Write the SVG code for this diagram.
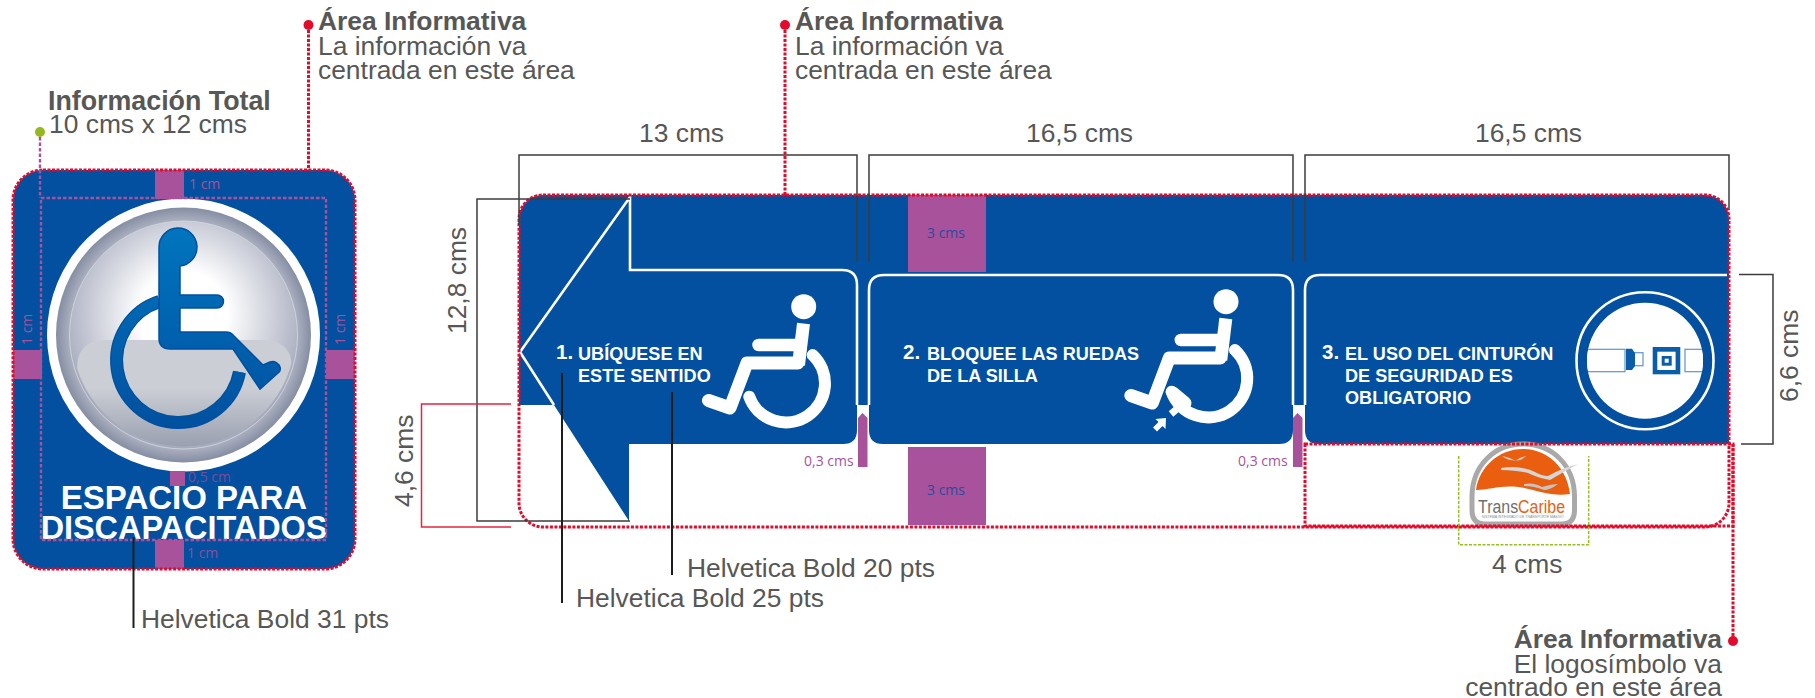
<svg xmlns="http://www.w3.org/2000/svg" width="1815" height="698" viewBox="0 0 1815 698">
<style>
text{font-family:"Liberation Sans",Arial,sans-serif}
.t{font-size:26.4px;fill:#575756}
.b{font-size:26.4px;fill:#575756;font-weight:bold}
.m{font-family:"Open Sans","Noto Sans",sans-serif;font-size:14px;fill:#a7529a}
.s{font-size:18.1px;fill:#fff;font-weight:bold}
.n{font-size:20.5px;fill:#fff;font-weight:bold}
.red{fill:none;stroke:#e30b2b;stroke-width:3;stroke-dasharray:3 1.5}
.pur{fill:none;stroke:#a7529a;stroke-width:2.4;stroke-dasharray:3.5 2}
.grn{fill:none;stroke:#94c11f;stroke-width:1.5;stroke-dasharray:3 1.5}
.dim{fill:none;stroke:#3c3c3b;stroke-width:1.5}
.dimr{fill:none;stroke:#e8233f;stroke-width:1.5}
.lead{fill:none;stroke:#1d1d1b;stroke-width:2}
.wl{fill:none;stroke:#fff;stroke-width:2.6}
.w{fill:none;stroke:#fff;stroke-linecap:round;stroke-linejoin:round}
.belt{fill:#fff;stroke:#5e94c9;stroke-width:1.2}
</style>
<defs>
<radialGradient id="ring" gradientUnits="userSpaceOnUse" cx="183.5" cy="335" r="128"><stop offset="0.85" stop-color="#b9bdcb"/><stop offset="1" stop-color="#838ca1"/></radialGradient>
<radialGradient id="disc" gradientUnits="userSpaceOnUse" cx="183.5" cy="315" r="125"><stop offset="0.35" stop-color="#fff"/><stop offset="1" stop-color="#a6abbd"/></radialGradient>
<linearGradient id="low" x1="0" y1="0" x2="0" y2="1"><stop offset="0.4" stop-color="#cbced5"/><stop offset="1" stop-color="#8e95a7"/></linearGradient>
<linearGradient id="sym" gradientUnits="userSpaceOnUse" x1="0" y1="228" x2="0" y2="430"><stop offset="0" stop-color="#0075bf"/><stop offset="1" stop-color="#00509f"/></linearGradient>
<clipPath id="cd"><circle cx="183.5" cy="335" r="111.5"/></clipPath>
<clipPath id="cb"><circle cx="1645" cy="360.7" r="58"/></clipPath>
<g id="chair">
<circle cx="803.7" cy="306.7" r="12.5" fill="#fff"/>
<path d="M803.5 323.5L798.5 365" fill="none" stroke="#fff" stroke-width="13"/>
<path class="w" stroke-width="12.5" d="M758.5 345H800"/>
<path class="w" stroke-width="13" d="M798 363H747L730 408L708.5 400.5"/>
<path class="w" stroke-width="12" d="M812.7 355A39 39 0 1 1 749.3 396.7"/>
</g>
</defs>

<g id="sign-left">
<rect x="13" y="170" width="342" height="399" rx="30" fill="#02509f"/>
<circle cx="183.5" cy="335" r="136.5" fill="#fff"/>
<circle cx="183.5" cy="335" r="127.5" fill="url(#ring)"/>
<circle cx="183.5" cy="335" r="114" fill="url(#disc)" stroke="#d5d8e0" stroke-width="0.8"/>
<path clip-path="url(#cd)" d="M77 368Q77 340 107 340H262Q292 340 292 368V460H77Z" fill="url(#low)"/>
<path d="M159.5 301.500A62 62 0 1 0 239.500 372" fill="none" stroke="#00509f" stroke-width="13"/>
<path d="M159.5 301.500A62 62 0 1 0 239.500 372" fill="none" stroke="url(#sym)" stroke-width="10.500"/>
<path d="M159 247A19 19 0 1 1 180 266V295H217A6.500 6.500 0 0 1 217 308H180V332H226Q231 332 234 336L263 365L270 362Q275 360 279 365Q282 370 278 373L260 389L233 349H170Q159 349 159 338Z" fill="url(#sym)" stroke="#00509f" stroke-width="1.500"/>
<rect x="155" y="170" width="29" height="29" fill="#a7529a"/>
<rect x="13" y="350" width="29" height="29" fill="#a7529a"/>
<rect x="326" y="350" width="29" height="29" fill="#a7529a"/>
<rect x="155" y="540" width="29" height="29" fill="#a7529a"/>
<rect x="170" y="471" width="15" height="15" fill="#a7529a"/>
<text class="m" x="189" y="189">1 cm</text>
<text class="m" transform="translate(32,345) rotate(-90)">1 cm</text>
<text class="m" transform="translate(345,345) rotate(-90)">1 cm</text>
<text class="m" x="187" y="558" style="fill:#8a4f9b">1 cm</text>
<text class="m" x="188" y="482" style="fill:#7d4a96">0,5 cm</text>
<text x="184" y="509" text-anchor="middle" font-weight="bold" font-size="33" fill="#fff">ESPACIO PARA</text>
<text x="184" y="539" text-anchor="middle" font-weight="bold" font-size="32.400" fill="#fff">DISCAPACITADOS</text>
<rect x="41" y="198" width="285" height="342" class="pur"/>
<rect x="13" y="170" width="342" height="399" rx="30" class="red"/>
</g>

<g id="sign-main">
<path d="M519 405V219A24 24 0 0 1 543 195H1705A24 24 0 0 1 1729 219V444H1319Q1305 444 1305 430V405H1293V430Q1293 444 1279 444H883Q869 444 869 430V405H857V430Q857 444 843 444H629V521L554 405Z" fill="#02509f"/>
<path class="wl" d="M554 405L520 352L630 197V270H842Q857 270 857 285V405"/>
<path class="wl" d="M869 405V290Q869 275 884 275H1278Q1293 275 1293 290V405"/>
<path class="wl" d="M1305 405V290Q1305 275 1320 275H1727"/>
<rect x="908" y="195" width="78" height="77" fill="#a7529a"/>
<rect x="908" y="447" width="78" height="78" fill="#a7529a"/>
<text class="m" x="927" y="238" style="fill:#2b4a9e">3 cms</text>
<text class="m" x="927" y="495" style="fill:#2b4a9e">3 cms</text>
<path d="M858 467V418L862.500 413L867.500 418V467Z" fill="#a7529a"/>
<path d="M1293 467V418L1297.500 413L1302.500 418V467Z" fill="#a7529a"/>
<text class="m" x="804" y="466">0,3 cms</text>
<text class="m" x="1238" y="466">0,3 cms</text>
</g>

<g id="panel-1">
<text class="n" x="556" y="359">1.</text>
<text class="s" x="578" y="360">UBÍQUESE EN</text>
<text class="s" x="578" y="382">ESTE SENTIDO</text>
<use href="#chair"/>
</g>

<g id="panel-2">
<text class="n" x="903" y="359">2.</text>
<text class="s" x="927" y="360">BLOQUEE LAS RUEDAS</text>
<text class="s" x="927" y="382">DE LA SILLA</text>
<use href="#chair" transform="translate(422.300,-5)"/>
<path class="w" stroke-width="13" d="M1173 393L1185 403"/>
<path d="M1171 414L1184 403" fill="none" stroke="#fff" stroke-width="7"/>
<path d="M1166 418L1165.500 429L1162.500 426L1157 431.500L1153 427.500L1158.500 422L1155.500 419Z" fill="#fff"/>
</g>

<g id="panel-3">
<text class="n" x="1322" y="359">3.</text>
<text class="s" x="1345" y="360">EL USO DEL CINTURÓN</text>
<text class="s" x="1345" y="382">DE SEGURIDAD ES</text>
<text class="s" x="1345" y="404">OBLIGATORIO</text>
<circle cx="1645" cy="360.700" r="68.500" fill="none" stroke="#fff" stroke-width="2.600"/>
<circle cx="1645" cy="360.700" r="58" fill="#fff"/>
<g clip-path="url(#cb)">
<rect class="belt" x="1580" y="349.300" width="45" height="22.400"/>
<rect class="belt" x="1685" y="349.300" width="25" height="22.400"/>
</g>
<rect class="belt" x="1634" y="352.700" width="9" height="13"/>
<path d="M1626 348.700H1632L1635 353V366L1632 370H1626Z" fill="#0a5ea9"/>
<rect x="1652.700" y="347" width="27.600" height="27.300" fill="#0a5ea9"/>
<rect x="1657.300" y="351.700" width="18.300" height="18.300" fill="#fff"/>
<rect x="1661.700" y="356" width="10" height="9.700" fill="#0a5ea9"/>
<rect x="1664.700" y="358.700" width="4" height="4" fill="#fff"/>
</g>

<g id="logo">
<path d="M1472 510V497C1472 466 1494 444 1523 444C1553 444 1574.500 466 1574.500 497V510Q1574.500 524 1562 524H1485Q1472 524 1472 510Z" fill="#fff" stroke="#a9a9a9" stroke-width="5"/>
<path d="M1476 490C1479 468 1498 449 1523 449C1548 449 1567 468 1570 494C1550 497 1535 489 1518 487C1500 485 1490 490 1476 490Z" fill="#ea5f0f"/>
<path d="M1502 456Q1512 458 1515 461Q1520 457 1526 456Q1520 462 1514 460Q1508 461 1502 456Z" fill="#c9c9c9"/>
<path d="M1501 468Q1520 465 1535 472Q1542 476 1548 476Q1562 468 1578 464Q1562 473 1550 480Q1538 478 1528 473Q1516 470 1501 470Z" fill="#d6d6d6"/>
<path d="M1524 484Q1534 482 1542 487Q1552 484 1558 484Q1550 490 1544 490Q1534 486 1524 486Z" fill="#c4c4c4"/>
<text x="1478" y="512.500" font-family="'Open Sans',sans-serif" font-size="17.500" textLength="87" lengthAdjust="spacingAndGlyphs" fill="#6f6f6e">Trans<tspan fill="#ea5f0f">Caribe</tspan></text>
<text x="1481.700" y="517.800" font-size="3.500" textLength="82" lengthAdjust="spacingAndGlyphs" fill="#8a8a8a">SISTEMA INTEGRADO DE TRANSPORTE MASIVO</text>
</g>

<g id="connectors">
<rect x="519" y="195" width="1210" height="332" rx="24" class="red"/>
<rect x="1305" y="444" width="428" height="82" class="red"/>
<path class="red" d="M308.500 30V170"/>
<path class="red" d="M785 30V195"/>
<path class="red" d="M1733 444V636"/>
<path class="pur" d="M40 137V198"/>
<path class="grn" d="M1458.700 456V544.700H1588.700V456"/>
<path class="dim" d="M519 225V155H857V262"/>
<path class="dim" d="M869 262V155H1293V262"/>
<path class="dim" d="M1305 262V155H1729V210"/>
<path class="dim" d="M630 199H477V521H630"/>
<path class="dimr" d="M511 404H421.500V527H511"/>
<path class="dim" d="M1739 274.500H1773V444H1741"/>
<path class="lead" d="M133.500 537V628"/>
<path class="lead" d="M672 392V575"/>
<path class="lead" d="M562 373V603"/>
<circle cx="308.500" cy="25" r="5" fill="#e30b2b"/>
<circle cx="785" cy="25" r="5" fill="#e30b2b"/>
<circle cx="1733" cy="641" r="5" fill="#e30b2b"/>
<circle cx="40" cy="132" r="5" fill="#94b81e"/>
</g>

<g id="labels">
<text class="b" x="318" y="30">Área Informativa</text>
<text class="t" x="318" y="54.500">La información va</text>
<text class="t" x="318" y="78.500">centrada en este área</text>
<text class="b" x="795" y="30">Área Informativa</text>
<text class="t" x="795" y="54.500">La información va</text>
<text class="t" x="795" y="78.500">centrada en este área</text>
<text class="b" x="48" y="110" style="font-size:26.800px">Información Total</text>
<text class="t" x="49" y="133">10 cms x 12 cms</text>
<text class="b" x="1722" y="648" text-anchor="end">Área Informativa</text>
<text class="t" x="1722" y="672.500" text-anchor="end">El logosímbolo va</text>
<text class="t" x="1722" y="696" text-anchor="end">centrado en este área</text>
<text class="t" x="639" y="142">13 cms</text>
<text class="t" x="1026" y="142">16,5 cms</text>
<text class="t" x="1475" y="142">16,5 cms</text>
<text class="t" x="1492" y="572.500">4 cms</text>
<text class="t" transform="translate(466,334) rotate(-90)">12,8 cms</text>
<text class="t" transform="translate(413,507) rotate(-90)">4,6 cms</text>
<text class="t" transform="translate(1798,402) rotate(-90)">6,6 cms</text>
<text class="t" x="141" y="628">Helvetica Bold 31 pts</text>
<text class="t" x="687" y="577">Helvetica Bold 20 pts</text>
<text class="t" x="576" y="607">Helvetica Bold 25 pts</text>
</g>
</svg>
